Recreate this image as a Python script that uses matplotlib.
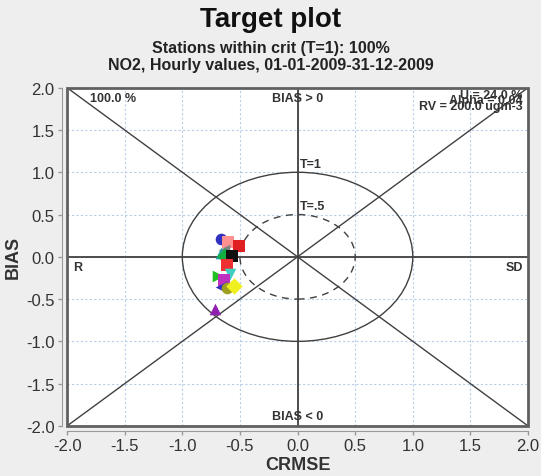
import matplotlib
matplotlib.use('Agg')
import matplotlib.pyplot as plt
import numpy as np
from matplotlib.patches import Ellipse, Rectangle

plt.rcParams['font.family'] = ['Liberation Sans', 'DejaVu Sans']

# station results: centred RMSE (x) and bias (y), normalised
crmse = [-0.66, -0.60, -0.51, -0.64, -0.66, -0.63, -0.57, -0.61, -0.585, -0.69, -0.635, -0.66, -0.615, -0.555, -0.715]
bias = [0.21, 0.17, 0.13, 0.08, 0.05, 0.015, 0.015, -0.10, -0.20, -0.23, -0.27, -0.36, -0.37, -0.34, -0.615]
colors = ['#3030c0', '#ff9090', '#e02020', '#808080', '#20a0a0', '#10b040', '#101010', '#f03030',
          '#40d0c0', '#20c020', '#c030c0', '#3030c0', '#a0a020', '#f0f020', '#9020b0']
markers = ['o', 's', 's', '<', '^', 'D', 's', 's', 'v', '>', 's', '<', 'o', 'D', '^']

ticks = [-2.0, -1.5, -1.0, -0.5, 0.0, 0.5, 1.0, 1.5, 2.0]
line_col = '#404040'

fig = plt.figure(figsize=(5.41, 4.77), dpi=100)
fig.patch.set_facecolor('#eeeeee')
ax = fig.add_axes([0.124, 0.105, 0.852, 0.709])
ax.set_facecolor('white')
ax.set_xlim(-2, 2)
ax.set_ylim(-2, 2)

ax.set_xticks(ticks)
ax.set_yticks(ticks)
ax.set_xticklabels(['%.1f' % t for t in ticks])
ax.set_yticklabels(['%.1f' % t for t in ticks])
ax.tick_params(colors='#999999', labelcolor='#333333', labelsize=12, length=3, width=1, pad=2)
ax.grid(True, color='#b8cde8', linestyle=(0, (2, 2)), linewidth=0.8)
ax.set_axisbelow(True)

for side in ['top', 'right']:
    ax.spines[side].set_visible(False)
for side in ['left', 'bottom']:
    ax.spines[side].set_position(('outward', 4))
    ax.spines[side].set_color('#999999')
ax.add_patch(Rectangle((0, 0), 1, 1, transform=ax.transAxes, fill=False,
                       edgecolor='#606060', linewidth=2, clip_on=False, zorder=5))

# diagonals and axes through the origin
ax.plot([-2, 2], [2, -2], color=line_col, lw=1)
ax.plot([-2, 2], [-2, 2], color=line_col, lw=1)
ax.plot([-2, 2], [0, 0], color=line_col, lw=1.3)
ax.plot([0, 0], [-2, 2], color=line_col, lw=1.3)

# target circles T=1 and T=0.5
ax.add_patch(Ellipse((0, 0), 2, 2, fill=False, edgecolor=line_col, lw=1))
ax.add_patch(Ellipse((0, 0), 1, 1, fill=False, edgecolor=line_col, lw=1, linestyle=(0, (5, 4))))

for x, y, c, m in zip(crmse, bias, colors, markers):
    ax.scatter(x, y, color=c, marker=m, s=70, linewidths=0, zorder=4)

txt = dict(fontsize=9, color='#333333', fontweight='bold')
ax.text(-1.8, 1.95, '100.0 %', va='top', ha='left', **txt)
ax.text(0, 1.95, 'BIAS > 0', va='top', ha='center', **txt)
ax.text(0.02, 1.1, 'T=1', va='center', ha='left', **txt)
ax.text(0.02, 0.6, 'T=.5', va='center', ha='left', **txt)
ax.text(-1.95, -0.05, 'R', va='top', ha='left', **txt)
ax.text(1.96, -0.05, 'SD', va='top', ha='right', **txt)
ax.text(0, -1.95, 'BIAS < 0', va='bottom', ha='center', **txt)
ax.text(1.95, 1.98, 'U = 24.0 %', va='top', ha='right', **txt)
ax.text(1.95, 1.92, 'Alpha = 0.04', va='top', ha='right', **txt)
ax.text(1.95, 1.85, 'RV = 200.0 ugm-3', va='top', ha='right', **txt)

ax.set_xlabel('CRMSE', fontsize=13, fontweight='bold', color='#333333', labelpad=2)
ax.set_ylabel('BIAS', fontsize=13, fontweight='bold', color='#333333', labelpad=3)

fig.text(0.5, 0.958, 'Target plot', ha='center', va='center', fontsize=20, fontweight='bold', color='#111111')
fig.text(0.5, 0.899, 'Stations within crit (T=1): 100%', ha='center', va='center', fontsize=11.5, fontweight='bold', color='#222222')
fig.text(0.5, 0.862, 'NO2, Hourly values, 01-01-2009-31-12-2009', ha='center', va='center', fontsize=11.5, fontweight='bold', color='#222222')

fig.savefig('out.png', dpi=100, facecolor=fig.get_facecolor())
